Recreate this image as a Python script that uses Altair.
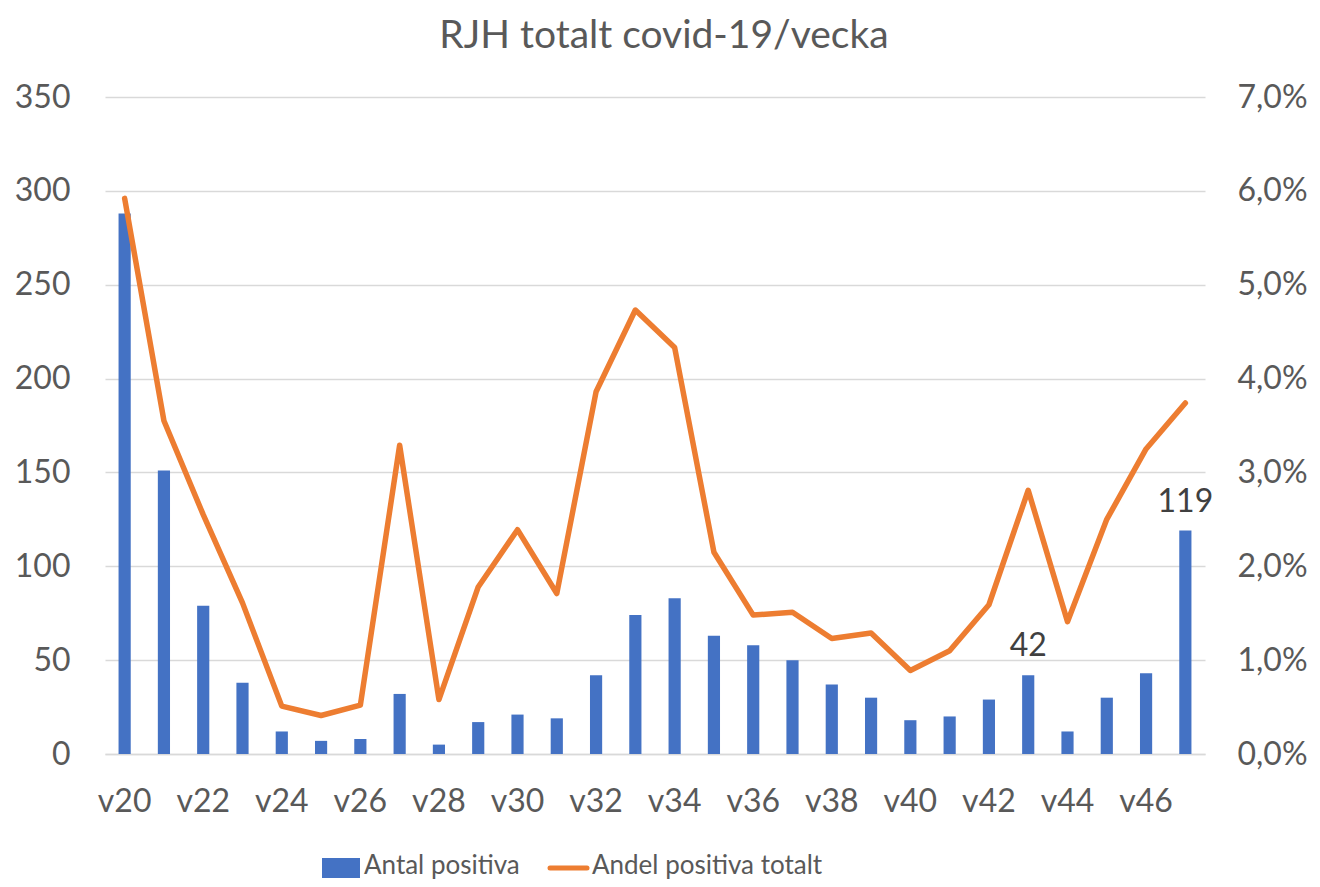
import altair as alt
import pandas as pd

weeks = ["v20", "v21", "v22", "v23", "v24", "v25", "v26", "v27", "v28", "v29",
         "v30", "v31", "v32", "v33", "v34", "v35", "v36", "v37", "v38", "v39",
         "v40", "v41", "v42", "v43", "v44", "v45", "v46", "v47"]
antal_positiva = [288, 151, 79, 38, 12, 7, 8, 32, 5, 17,
                  21, 19, 42, 74, 83, 63, 58, 50, 37, 30,
                  18, 20, 29, 42, 12, 30, 43, 119]
andel_positiva_pct = [5.92, 3.55, 2.55, 1.61, 0.51, 0.41, 0.52, 3.29, 0.58, 1.78,
                      2.39, 1.71, 3.86, 4.73, 4.33, 2.15, 1.48, 1.51, 1.23, 1.29,
                      0.89, 1.10, 1.59, 2.81, 1.41, 2.50, 3.25, 3.74]
x_tick_labels = ["v20", "v22", "v24", "v26", "v28", "v30", "v32", "v34",
                 "v36", "v38", "v40", "v42", "v44", "v46"]
left_ticks = [0, 50, 100, 150, 200, 250, 300, 350]
right_ticks = [0, 0.01, 0.02, 0.03, 0.04, 0.05, 0.06, 0.07]
labelled_weeks = ["v43", "v47"]
legend_labels = ["Antal positiva", "Andel positiva totalt"]
title_text = "RJH totalt covid-19/vecka"

FONT = "Lato"
GREY = "#595959"
GRID = "#D9D9D9"
BLUE = "#4472C4"
ORANGE = "#ED7D31"

df = pd.DataFrame({
    "vecka": weeks,
    "antal": antal_positiva,
    "andel": [v / 100 for v in andel_positiva_pct],
})
df["etikett"] = [str(a) if w in labelled_weeks else "" for w, a in zip(weeks, antal_positiva)]

W, H = 1100, 657

xscale = alt.Scale(domain=weeks, paddingInner=0.69, paddingOuter=0.345)
xaxis = alt.Axis(values=x_tick_labels, title=None, labelAngle=0, ticks=False, tickSize=0,
                 labelPadding=32, labelFontSize=32, labelColor=GREY, labelFont=FONT,
                 domain=True, domainColor=GRID, domainWidth=1.5, grid=False)
left_scale = alt.Scale(domain=[0, 350], nice=False)
left_axis = alt.Axis(values=left_ticks, title=None, orient="left", ticks=False, tickSize=0,
                     domain=False, labelPadding=35, labelFontSize=32,
                     labelColor=GREY, labelFont=FONT, grid=True, gridColor=GRID, gridWidth=1.5)
right_axis = alt.Axis(values=right_ticks, title=None, orient="right", ticks=False, tickSize=0,
                      domain=False, grid=False, labelPadding=32, labelFontSize=32,
                      labelColor=GREY, labelFont=FONT,
                      labelExpr="replace(format(datum.value, '.1%'), '.', ',')")

base = alt.Chart(df)

bars = base.mark_bar(color=BLUE).encode(
    x=alt.X("vecka:N", scale=xscale, axis=xaxis, sort=weeks),
    y=alt.Y("antal:Q", scale=left_scale, axis=left_axis),
)

labels = base.mark_text(font=FONT, fontSize=32, color="#404040", baseline="bottom", dy=-12).encode(
    x=alt.X("vecka:N", scale=xscale, axis=xaxis, sort=weeks),
    y=alt.Y("antal:Q", scale=left_scale, axis=left_axis),
    text="etikett:N",
)

line = base.mark_line(color=ORANGE, strokeWidth=5.5, strokeCap="round", strokeJoin="round").encode(
    x=alt.X("vecka:N", scale=xscale, axis=xaxis, sort=weeks),
    y=alt.Y("andel:Q", scale=alt.Scale(domain=[0, 0.07], nice=False), axis=right_axis),
)

leg_bar_df = pd.DataFrame({"label": [legend_labels[0]]})
leg_line_df = pd.DataFrame({"label": [legend_labels[1]]})

leg_rect = alt.Chart(leg_bar_df).mark_rect(color=BLUE).encode(
    x=alt.value(217), x2=alt.value(255), y=alt.value(761), y2=alt.value(781))
leg_text1 = alt.Chart(leg_bar_df).mark_text(font=FONT, fontSize=26, color=GREY, align="left",
                                            baseline="alphabetic").encode(
    x=alt.value(259), y=alt.value(777), text="label:N")
leg_rule = alt.Chart(leg_line_df).mark_rule(color=ORANGE, strokeWidth=5, strokeCap="round").encode(
    x=alt.value(445), x2=alt.value(482), y=alt.value(771))
leg_text2 = alt.Chart(leg_line_df).mark_text(font=FONT, fontSize=26, color=GREY, align="left",
                                             baseline="alphabetic").encode(
    x=alt.value(487), y=alt.value(777), text="label:N")

left_layer = alt.layer(bars, labels)
chart = alt.layer(left_layer, line, leg_rect, leg_text1, leg_rule, leg_text2).resolve_scale(
    y="independent"
).properties(
    width=W, height=H,
    background="white",
    title=alt.TitleParams(title_text, font=FONT, fontSize=39, fontWeight="normal", color=GREY,
                          anchor="middle", frame="group", dx=9, offset=25),
    autosize=alt.AutoSizeParams(type="none"),
    padding={"left": 97, "top": 89, "right": 107, "bottom": 125},
).configure_view(
    stroke="transparent", strokeWidth=0
)

chart.save("out.html", embed_options={"renderer": "svg", "actions": False})
